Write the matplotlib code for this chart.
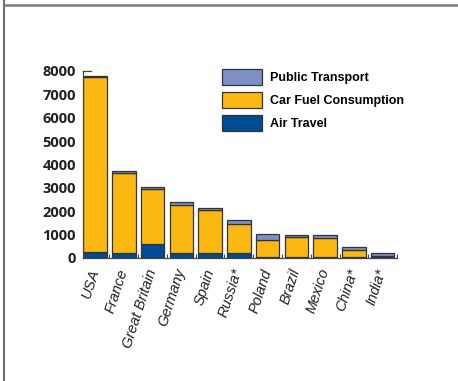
import matplotlib
matplotlib.use("Agg")
import matplotlib.pyplot as plt
from matplotlib.lines import Line2D
from matplotlib.patches import Patch
import numpy as np

countries = ["USA", "France", "Great Britain", "Germany", "Spain", "Russia*",
             "Poland", "Brazil", "Mexico", "China*", "India*"]
air_travel = [270, 230, 600, 200, 200, 220, 30, 60, 30, 20, 80]
car_fuel = [7460, 3390, 2340, 2080, 1830, 1240, 750, 830, 830, 320, 20]
public_transport = [50, 110, 110, 100, 110, 180, 260, 110, 110, 120, 110]

c_public = "#7d8fc5"
c_car = "#fbb813"
c_air = "#004b93"
edge = "#333333"

fig = plt.figure(figsize=(4.58, 3.81), dpi=100)
ax = fig.add_axes([0.181, 0.323, 0.686, 0.491])

x = np.arange(len(countries))
w = 0.82
air = np.array(air_travel)
car = np.array(car_fuel)
pub = np.array(public_transport)
ax.bar(x, air, w, color=c_air, edgecolor=edge, linewidth=0.9)
ax.bar(x, car, w, bottom=air, color=c_car, edgecolor=edge, linewidth=0.9)
ax.bar(x, pub, w, bottom=air + car, color=c_public, edgecolor=edge, linewidth=0.9)

ax.set_xlim(-0.42, len(countries) - 0.5)
ax.set_ylim(0, 8000)
ax.set_yticks(np.arange(0, 8001, 1000))
ax.tick_params(axis="y", length=0, pad=5)
for lab in ax.get_yticklabels():
    lab.set_fontfamily("Open Sans")
    lab.set_fontweight("bold")
    lab.set_fontsize(10.5)
    lab.set_color("#231f20")

# small ticks between the bars, pointing up
ax.set_xticks(x)
ax.set_xticks(np.arange(0.5, len(countries), 1.0), minor=True)
ax.tick_params(axis="x", which="major", length=0, pad=8)
ax.tick_params(axis="x", which="minor", direction="in", length=3, width=0.8, color="#444444")
ax.set_xticklabels(countries, rotation=72, ha="right", va="center",
                   rotation_mode="anchor", fontfamily="Liberation Sans",
                   fontstyle="italic", fontsize=10.5, color="#231f20")

for s in ["top", "right"]:
    ax.spines[s].set_visible(False)
for s in ["left", "bottom"]:
    ax.spines[s].set_color("#444444")
    ax.spines[s].set_linewidth(0.9)
ax.axhline(8000, xmin=0, xmax=0.025, color="#444444", linewidth=0.9, clip_on=False)

handles = [Patch(facecolor=c_public, edgecolor=edge, linewidth=0.9),
           Patch(facecolor=c_car, edgecolor=edge, linewidth=0.9),
           Patch(facecolor=c_air, edgecolor=edge, linewidth=0.9)]
labels = ["Public Transport", "Car Fuel Consumption", "Air Travel"]
fig.legend(handles, labels, loc="upper left", bbox_to_anchor=(0.485, 0.819),
           frameon=False, borderpad=0, borderaxespad=0,
           handlelength=3.2, handleheight=1.6, handletextpad=0.65,
           labelspacing=0.55,
           prop={"family": "Liberation Sans", "weight": "bold", "size": 9})

# page frame
fig.add_artist(Line2D([0.0098, 0.0098], [0, 1], color="#6e6e6e", linewidth=1.5))
fig.add_artist(Line2D([0.0098, 1], [0.987, 0.987], color="#7a7a7a", linewidth=1.8))

fig.savefig("out.png", dpi=100, facecolor="white")
